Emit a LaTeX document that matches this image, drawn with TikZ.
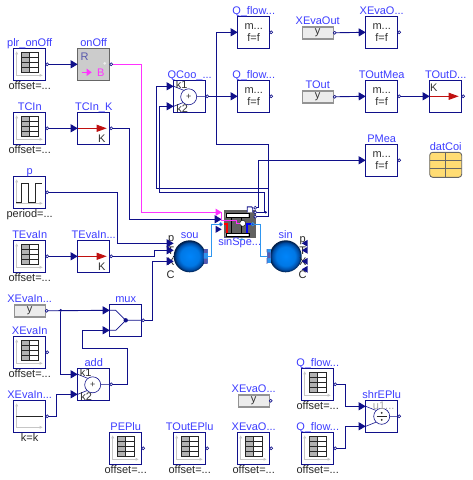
\documentclass[tikz,border=0pt]{standalone}
\usepackage{fontspec}
\setmainfont{Liberation Sans}
\usetikzlibrary{arrows.meta,patterns}

\pgfdeclareradialshading{fluidball}{\pgfpoint{0bp}{0bp}}{
  rgb(0bp)=(0,0.52,0.98);
  rgb(15bp)=(0,0.47,0.9);
  rgb(21bp)=(0,0.3,0.65);
  rgb(25bp)=(0,0.1,0.25);
  rgb(50bp)=(0,0.1,0.25)}

\begin{document}
\begin{tikzpicture}[
  x=1pt, y=-1pt, shift={(-.3,.3)},
  font=\fontsize{11}{12}\selectfont,
  >={Triangle[length=7pt,width=8pt]},
  block/.style={draw=navyw, line width=0.9pt, minimum width=32pt, minimum height=32pt,
                inner sep=0pt, outer sep=0pt, align=center, text=txtg, fill=white},
  lbl/.style={text=lblue, inner sep=0pt, text height=8pt, text depth=2.5pt, label distance=-1pt},
  srclbl/.style={lbl, yshift=1pt},
  par/.style={text=black!85, inner sep=0pt, text height=8pt, text depth=2.5pt, label distance=0.7pt},
  axes/.pic={
    \draw[gray!45, line width=0.7pt, {Triangle[length=3pt,width=2.5pt]}-{Triangle[length=3pt,width=2.5pt]}]
      (-13,-13) -- (-13,11) -- (13,11);
  },
  tbl/.style={block, path picture={
    \begin{scope}[shift={(path picture bounding box.center)}]
      \pic {axes};
      \fill[gray!60] (-8.5,-12) rectangle (0,8);
      \draw[black!85, line width=0.8pt] (-8.5,-12) rectangle (8.5,8);
      \foreach \r in {-7,-2,3} \draw[black!85, line width=0.8pt] (-8.5,\r) -- (8.5,\r);
      \draw[black!85, line width=0.8pt] (0,-12) -- (0,8);
    \end{scope}}},
  pulse/.style={block, path picture={
    \begin{scope}[shift={(path picture bounding box.center)}]
      \pic {axes};
      \draw[black!85, line width=0.8pt] (-13.5,10.5) -- (-8,10.5) -- (-8,-8.5) -- (-1,-8.5) -- (-1,10.5)
        -- (6,10.5) -- (6,-8.5) -- (12,-8.5);
    \end{scope}}},
  constbl/.style={block, path picture={
    \begin{scope}[shift={(path picture bounding box.center)}]
      \pic {axes};
      \draw[black!85, line width=0.8pt] (-13.5,0) -- (13,0);
    \end{scope}}},
  src/.style={minimum width=31pt, minimum height=12pt, inner sep=0pt, outer sep=0pt, fill=gray!15,
    draw=gray!85, line width=1.4pt, text=black!80},
  conv/.style={block, path picture={
    \begin{scope}[shift={(path picture bounding box.center)}]
      \draw[redc, line width=0.9pt, -{Triangle[length=10pt,width=7pt]}] (-16,0) -- (13,0);
    \end{scope}}},
  sumbl/.style={block, path picture={
    \begin{scope}[shift={(path picture bounding box.center)}]
      \draw[navyw, line width=0.6pt] (-16,-10) -- (-6,-6) (-16,10) -- (-6,6) (7,0) -- (16,0);
      \draw[navyw, line width=0.6pt, fill=white] (-1,0.5) circle (8);
      \node[text=black!80] at (-1,0.5) {\fontsize{9}{9}\selectfont +};
      \node[text=black!80, inner sep=0pt] at (-8,-12) {k1};
      \node[text=black!80, inner sep=0pt] at (-7.5,12) {k2};
    \end{scope}}},
  dot/.style={circle, fill=navyw, inner sep=0pt, minimum size=3pt},
  outp/.style={circle, draw=navyw, fill=white, line width=0.6pt, inner sep=0pt, minimum size=3pt},
  wire/.style={draw=navyw, line width=0.9pt},
  magwire/.style={draw=magentaw, line width=0.9pt},
  fwire/.style={draw=fluidb, line width=0.9pt},
  fluid/.style={circle, minimum size=32pt, inner sep=0pt, outer sep=0pt, shading=fluidball},
  fport/.style={minimum width=4pt, minimum height=14pt, inner sep=0pt, outer sep=0pt, fill=fluidb,
    postaction={pattern=checkerboard, pattern color=navyw!70}},
  hport/.style={circle, draw=fluidb, fill=fluidb!50!navyw, line width=0.6pt, inner sep=0pt, minimum size=3.4pt},
  ptxt/.style={text=black!85, inner sep=0pt},
]
\definecolor{navyw}{HTML}{10108A}
\definecolor{lblue}{HTML}{3C3CFF}
\definecolor{txtg}{HTML}{333333}
\definecolor{redc}{HTML}{C01010}
\definecolor{magentaw}{HTML}{FF33FF}
\definecolor{fluidb}{HTML}{2F96F0}
\useasboundingbox (0.3,-0.3) rectangle (472.3,479.7);

% ---- left column ----
\node[tbl, label={[lbl]above:plr\_onOff}, label={[par]below:offset=...}] (plrOnOff) at (30,64) {};
\node[tbl, label={[lbl]above:TCIn}, label={[par]below:offset=...}] (TCIn) at (30,128) {};
\node[pulse, label={[lbl]above:p}, label={[par]below:period=...}] (pPulse) at (30,192) {};
\node[tbl, label={[lbl]above:TEvaIn}, label={[par]below:offset=...}] (TEvaIn) at (30,256) {};
\node[src, label={[srclbl]above:XEvaIn...}] (XEvaInY) at (30,310.5) {y};
\node[tbl, label={[lbl]above:XEvaIn}, label={[par]below:offset=...}] (XEvaIn) at (30,352) {};
\node[constbl, label={[lbl]above:XEvaIn...}, label={[par]below:k=k}] (XEvaInK) at (30,416) {};

% ---- second column ----
\node[block, draw=gray!80!black, line width=1.5pt, fill=gray!40, label={[lbl]above:onOff},
  path picture={
    \begin{scope}[shift={(path picture bounding box.center)}]
      \node[text=navyw!70] at (-9,-8) {R};
      \node[text=magentaw] at (7,8) {B};
      \draw[magentaw, line width=1.6pt, -{Triangle[length=5pt,width=7pt]}] (-12,8) -- (-2,8);
      \fill[white!85!gray] (11,-1) circle (1.5);
    \end{scope}}] (onOff) at (94,64) {};
\node[conv, label={[lbl]above:TCIn\_K}] (TCInK) at (94,128) {};
\node[text=txtg, inner sep=0pt] (TCInKu) at (102,138) {K};
\node[conv, label={[lbl]above:TEvaIn...}] (TEvaInK) at (94,256) {};
\node[text=txtg, inner sep=0pt] (TEvaInKu) at (102,266) {K};
\node[sumbl, label={[lbl]above:add}] (add) at (94,384) {};
\node[block, label={[lbl]above:mux}, path picture={
    \begin{scope}[shift={(path picture bounding box.center)}]
      \draw[navyw, line width=0.7pt] (-16,-10) -- (-10,-10) -- (0,0) -- (-10,10) -- (-16,10) (0,0) -- (16,0);
      \fill[navyw] (0,0) circle (2.2);
    \end{scope}}] (mux) at (126,320) {};
\node[tbl, label={[lbl]above:PEPlu}, label={[par]below:offset=...}] (PEPlu) at (126,448) {};

% ---- middle ----
\node[sumbl, label={[lbl]above:QCoo\_...}] (QCoo) at (190,96) {};
\node[tbl, label={[lbl]above:TOutEPlu}, label={[par]below:offset=...}] (TOutEPlu) at (190,448) {};
\node[block, label={[lbl]above:Q\_flow...}] (QFlowA) at (254,32) {m...\\f=f};
\node[block, label={[lbl]above:Q\_flow...}] (QFlowB) at (254,96) {m...\\f=f};
\node[src, label={[srclbl]above:XEvaO...}] (XEvaOY) at (254,400.5) {y};
\node[tbl, label={[lbl]above:XEvaO...}, label={[par]below:offset=...}] (XEvaOT) at (254,448) {};
\node[tbl, label={[lbl]above:Q\_flow...}, label={[par]below:offset=...}] (QFlowC) at (318,384) {};
\node[tbl, label={[lbl]above:Q\_flow...}, label={[par]below:offset=...}] (QFlowD) at (318,448) {};

% ---- right columns ----
\node[src, label={[srclbl]above:XEvaOut}] (XEvaOut) at (318,32.5) {y};
\node[src, label={[srclbl]above:TOut}] (TOut) at (318,96.5) {y};
\node[block, label={[lbl]above:XEvaO...}] (XEvaOMea) at (382,32) {m...\\f=f};
\node[block, label={[lbl]above:TOutMea}] (TOutMea) at (382,96) {m...\\f=f};
\node[block, label={[lbl]above:PMea}] (PMea) at (382,160) {m...\\f=f};
\node[conv, label={[lbl]above:TOutD...}] (TOutD) at (446,96) {};
\node[text=txtg, inner sep=0pt] (TOutDu) at (434,87) {K};
\node[draw=gray!80!black, line width=0.9pt, fill=orange!50!yellow!55, rounded corners=3pt, minimum width=32pt,
  minimum height=25pt, inner sep=0pt, outer sep=0pt, label={[lbl]above:datCoi},
  path picture={
    \begin{scope}[shift={(path picture bounding box.center)}]
      \draw[gray!80!black, line width=0.8pt] (0,-13) -- (0,13) (-16,-4) -- (16,-4) (-16,4) -- (16,4);
    \end{scope}}] (datCoi) at (446,164.5) {};
\node[block, label={[lbl]above:shrEPlu}, path picture={
    \begin{scope}[shift={(path picture bounding box.center)}]
      \draw[navyw, line width=0.6pt] (-16,-10) -- (-6,-6) (-16,10) -- (-6,6) (7,0) -- (16,0);
      \draw[navyw, line width=0.6pt, fill=white] (0,0) circle (8);
      \draw[black!85, line width=0.8pt] (-5,0) -- (5,0);
      \fill[black!85] (0,-3.5) circle (1) (0,3.5) circle (1);
      \node[text=gray!70, inner sep=0pt] at (2,-11) {u1...};
    \end{scope}}] (shrEPlu) at (382,416) {};

% ---- fluid part ----
\node[fluid, label={[lbl]above:sou}] (sou) at (190,256) {};
\node[fluid, label={[lbl]above:sin}] (sin) at (286,256) {};
\node[fport] (souPort) at (206,256) {};
\node[fport] (sinPort) at (269,256) {};
\node[minimum width=32pt, minimum height=28pt, inner sep=0pt, outer sep=0pt, fill=black!62, label={[lbl]below:sinSpe...},
  path picture={
    \begin{scope}[shift={(path picture bounding box.center)}]
      \draw[black, fill=white, line width=0.4pt] (-14,-11) rectangle (9,-7) (-14,8.7) rectangle (9,11.7);
      \draw[black, line width=0.8pt] (-8,-7) -- (-8,8.7) (2,-7) -- (2,8.7);
      \draw[red, line width=1.8pt] (-16,0) -- (-12.5,0) -- (-12.5,8.7);
      \draw[blue, line width=1.8pt] (13,0) -- (7.5,0) -- (7.5,8.7);
      \draw[black, fill=white, line width=0.4pt] (3,-1) circle (3);
    \end{scope}}] (sinSpe) at (240,224) {};
\node[hport] (sinSpeA) at (221,224) {};
\node[hport] (sinSpeB) at (253,224) {};
\node[outp] (sinSpeP) at (255.5,207.5) {};
\node[outp] (sinSpeT) at (255.5,212) {};
\node[outp] (sinSpeQ) at (255.5,216.5) {};
\coordinate (tapQ) at (269,188);

% ---- port letters ----
\foreach \n/\t/\x/\y in {souP/p/171.5/239, souT/T/171/250.5, souX/X/171/261, souC/C/171/274,
                         sinP/p/303/240, sinT/T/303/250.5, sinX/X/303/261, sinC/C/303/274}
  \node[ptxt] (\n) at (\x,\y) {\t};
\draw[navyw, line width=0.9pt, fill=white] (247.5,212) -- (247.5,206.5) -- (252,206.5) -- (253,208) -- (253,212);

% ---- connections ----
\draw[wire,->] (plrOnOff.east) -- (onOff.west);
\draw[wire,->] (TCIn.east) -- (TCInK.west);
\draw[wire,->] (TEvaIn.east) -- (TEvaInK.west);
\draw[magwire,->,>={Triangle[length=6pt,width=7pt]}] (onOff.east) -- ++(32,0) |- ([xshift=-2pt,yshift=12pt]sinSpe.west);
\draw[wire,->] (TCInK.east) -- ++(20,0) |- ([xshift=-2pt,yshift=5pt]sinSpe.west);
\draw[wire,->] (pPulse.east) -- ++(72,0) |- ([yshift=13pt]sou.west);
\draw[wire,->] (TEvaInK.east) -- ++(45,0) |- ([yshift=6pt]sou.west);
\draw[wire,->] (mux.east) -- ++(11,0) |- ([yshift=-5pt]sou.west);
\node[dot] (juncX) at (61,310) {};
\draw[wire,->] (XEvaInY.east) -- ([yshift=10pt]mux.west);
\draw[wire,->] (juncX) |- ([yshift=10pt]add.west);
\draw[wire,->] (XEvaInK.east) -- ++(11,0) |- ([yshift=-10pt]add.west);
\draw[wire,->] (add.east) -- ++(18,0) |- (83,348) |- ([yshift=-10pt]mux.west);
\draw[wire,->] (QCoo.east) -- (QFlowB.west);
\draw[wire,->] (sinSpeQ.east) -| (269,144) -| (217,32) -- (QFlowA.west);
\draw[wire,->] (tapQ) -| (157,86) -- ([yshift=10pt]QCoo.west);
\draw[wire,->] (sinSpeT.east) -| (265,192) -| (160,106) -- ([yshift=-10pt]QCoo.west);
\draw[wire,->] (sinSpeP.east) -| (259,160) -- (PMea.west);
\node[dot, minimum size=2.6pt] (juncT) at (266,212) {};
\draw[wire,->] (XEvaOut.east) -- (XEvaOMea.west);
\draw[wire,->] (TOut.east) -- (TOutMea.west);
\draw[wire,->] (TOutMea.east) -- (TOutD.west);
\draw[wire,->] (QFlowC.east) -- ++(12,0) |- ([yshift=10pt]shrEPlu.west);
\draw[wire,->] (QFlowD.east) -- ++(12,0) |- ([yshift=-10pt]shrEPlu.west);
\draw[fwire] (souPort.east) -- ++(4,0) |- (sinSpeA);
\draw[fwire] (sinPort.west) -- ++(-6,0) |- (sinSpeB);
\draw[magwire, line width=0.6pt] ([xshift=-2pt,yshift=12pt]sinSpe.west) -- ++(0,8) -- ++(15,0) -- ++(0,3) -- ++(3,0);
\fill[navyw] ([xshift=-2pt,yshift=-5pt]sinSpe.west) -- ++(-6,-3.5) -- ++(0,7) -- cycle;
\fill[fluidb] ([xshift=2pt]sinSpe.south) -- ++(-3,1.5) -- ++(6,0) -- cycle;

% ---- open ports on sin ----
\foreach \d in {13,6,-5,-13}
  \fill[navyw] ([yshift=\d pt]sin.east) -- ++(6,-3.5) -- ++(0,7) -- cycle;

% ---- output dots ----
\foreach \n in {plrOnOff,onOff,TCIn,TCInK,pPulse,TEvaIn,TEvaInK,XEvaInY,XEvaIn,XEvaInK,add,mux,PEPlu,QCoo,
                TOutEPlu,QFlowA,QFlowB,XEvaOY,XEvaOT,QFlowC,QFlowD,XEvaOut,TOut,XEvaOMea,TOutMea,PMea,TOutD,shrEPlu}
  \node[outp] (\n Out) at ([xshift=1.5pt]\n.east) {};
\end{tikzpicture}
\end{document}
